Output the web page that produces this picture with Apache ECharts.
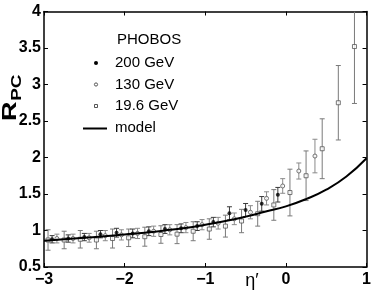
<!DOCTYPE html>
<html><head><meta charset="utf-8">
<script src="https://cdn.jsdelivr.net/npm/echarts@6/dist/echarts.min.js"></script>
<style>html,body{margin:0;padding:0;background:#fff}#c{width:374px;height:293px}</style>
</head><body><div id="c"></div><script>
// 200 GeV (filled dots)
const eta200 = [-2.9,-2.7,-2.5,-2.3,-2.1,-1.9,-1.7,-1.5,-1.3,-1.1,-0.9,-0.7,-0.5,-0.3,-0.1];
const r200   = [0.88,0.89,0.91,0.95,0.97,0.96,0.99,1.02,1.03,1.06,1.115,1.235,1.28,1.365,1.49];
const err200 = [0.05,0.05,0.05,0.05,0.06,0.06,0.06,0.06,0.06,0.06,0.065,0.09,0.09,0.1,0.1];
// 130 GeV (open circles)
const eta130 = [-2.84,-2.64,-2.44,-2.24,-2.04,-1.84,-1.64,-1.44,-1.24,-1.04,-0.84,-0.64,-0.44,-0.24,-0.04,0.16,0.36];
const r130   = [0.89,0.89,0.90,0.93,0.94,0.96,0.99,1.01,1.04,1.08,1.10,1.16,1.25,1.44,1.61,1.815,2.02];
const err130 = [0.06,0.06,0.06,0.07,0.07,0.07,0.07,0.07,0.07,0.07,0.08,0.08,0.09,0.09,0.10,0.11,0.23];
// 19.6 GeV (open squares)
const eta19 = [-2.95,-2.75,-2.55,-2.35,-2.15,-1.95,-1.75,-1.55,-1.35,-1.15,-0.95,-0.75,-0.55,-0.35,-0.15,0.05,0.25,0.45,0.65,0.85];
const r19   = [0.87,0.87,0.88,0.87,0.89,0.90,0.915,0.945,0.95,0.99,1.02,1.06,1.13,1.23,1.35,1.52,1.75,2.12,2.75,3.52];
const err19 = [0.14,0.12,0.12,0.12,0.13,0.12,0.13,0.12,0.13,0.13,0.14,0.15,0.16,0.17,0.21,0.32,0.34,0.41,0.51,0.78];
// model curve
const modelEta = [-3,-2.75,-2.5,-2.25,-2,-1.75,-1.5,-1.25,-1,-0.75,-0.5,-0.25,0,0.25,0.5,0.75,1];
const modelR   = [0.86,0.88,0.90,0.92,0.945,0.97,1.0,1.035,1.08,1.13,1.19,1.26,1.33,1.43,1.56,1.74,1.99];
// axes
const xTicks = [-3,-2,-1,0,1];
const yTicks = [0.5,1,1.5,2,2.5,3,3.5,4];
const legendTitle = 'PHOBOS';
const legendNames = ['200 GeV','130 GeV','19.6 GeV','model'];

const X_MIN = xTicks[0], X_MAX = xTicks[xTicks.length-1];
const Y_MIN = yTicks[0], Y_MAX = yTicks[yTicks.length-1];
const FONT = '"Liberation Sans", Arial, Helvetica, sans-serif';

function errSeries(xs, ys, es, color, z) {
  return {
    type: 'custom', z: z, silent: true, clip: true,
    data: xs.map((x, i) => [x, ys[i] - es[i], ys[i] + es[i]]),
    encode: { x: 0, y: [1, 2] },
    renderItem: function (params, api) {
      const x = api.value(0);
      const lo = api.value(1), hi = api.value(2);
      const pLo = api.coord([x, lo]);
      const pHi = api.coord([x, Math.min(hi, Y_MAX)]);
      const w = 2.5;
      const style = { stroke: color, lineWidth: 1 };
      const ch = [
        { type: 'line', shape: { x1: pLo[0], y1: pLo[1], x2: pHi[0], y2: pHi[1] }, style: style },
        { type: 'line', shape: { x1: pLo[0] - w, y1: pLo[1], x2: pLo[0] + w, y2: pLo[1] }, style: style }
      ];
      if (hi <= Y_MAX) ch.push({ type: 'line', shape: { x1: pHi[0] - w, y1: pHi[1], x2: pHi[0] + w, y2: pHi[1] }, style: style });
      return { type: 'group', children: ch };
    }
  };
}

const chart = echarts.init(document.getElementById('c'), null, { renderer: 'canvas' });
function axisCommon() {
  return {
    axisLine: { show: true, onZero: false, lineStyle: { color: '#000', width: 1.5 } },
    axisTick: { show: true, inside: true, length: 4, lineStyle: { color: '#000', width: 1 } },
    splitLine: { show: false }
  };
}
chart.setOption({
  animation: false,
  backgroundColor: '#fff',
  grid: { left: 44, right: 7, top: 11.5, bottom: 26, show: false },
  xAxis: [
    Object.assign({ type: 'value', position: 'bottom', min: X_MIN, max: X_MAX, interval: 1,
      axisLabel: { margin: 5, color: '#000', fontFamily: FONT, fontWeight: 'bold', fontSize: 16,
        formatter: v => String(v).replace('-', '\u2212') } }, axisCommon()),
    Object.assign({ type: 'value', position: 'top', min: X_MIN, max: X_MAX, interval: 1,
      axisLabel: { show: false } }, axisCommon())
  ],
  yAxis: [
    Object.assign({ type: 'value', position: 'left', min: Y_MIN, max: Y_MAX, interval: 0.5,
      axisLabel: { margin: 3, color: '#000', fontFamily: FONT, fontWeight: 'bold', fontSize: 16 } }, axisCommon()),
    Object.assign({ type: 'value', position: 'right', min: Y_MIN, max: Y_MAX, interval: 0.5,
      axisLabel: { show: false } }, axisCommon())
  ],
  series: [
    errSeries(eta19, r19, err19, '#7a7a7a', 2),
    errSeries(eta130, r130, err130, '#8a8a8a', 2),
    errSeries(eta200, r200, err200, '#3a3a3a', 3),
    { type: 'scatter', name: legendNames[2], z: 4, symbol: 'rect', symbolSize: 4,
      data: eta19.map((x, i) => [x, r19[i]]), clip: true,
      itemStyle: { color: '#fff', borderColor: '#555', borderWidth: 1 } },
    { type: 'scatter', name: legendNames[1], z: 4, symbol: 'circle', symbolSize: 4,
      data: eta130.map((x, i) => [x, r130[i]]),
      itemStyle: { color: '#fff', borderColor: '#555', borderWidth: 1 } },
    { type: 'scatter', name: legendNames[0], z: 5, symbol: 'circle', symbolSize: 4,
      data: eta200.map((x, i) => [x, r200[i]]),
      itemStyle: { color: '#000' } },
    { type: 'line', name: legendNames[3], z: 6, smooth: true, showSymbol: false, symbol: 'none',
      data: modelEta.map((x, i) => [x, modelR[i]]),
      lineStyle: { color: '#000', width: 2 } }
  ],
  graphic: [
    { type: 'text', left: 117, top: 32, style: { text: legendTitle, font: '15px ' + FONT, fill: '#000' } },
    { type: 'circle', shape: { cx: 96, cy: 63, r: 2 }, style: { fill: '#000' } },
    { type: 'text', x: 115, y: 63, style: { text: legendNames[0], font: '15px ' + FONT, fill: '#000', verticalAlign: 'middle' } },
    { type: 'circle', shape: { cx: 96, cy: 84.5, r: 1.6 }, style: { fill: '#fff', stroke: '#555', lineWidth: 1 } },
    { type: 'text', x: 115, y: 84.5, style: { text: legendNames[1], font: '15px ' + FONT, fill: '#000', verticalAlign: 'middle' } },
    { type: 'rect', shape: { x: 94.5, y: 104.5, width: 3, height: 3 }, style: { fill: '#fff', stroke: '#555', lineWidth: 1 } },
    { type: 'text', x: 115, y: 106, style: { text: legendNames[2], font: '15px ' + FONT, fill: '#000', verticalAlign: 'middle' } },
    { type: 'line', shape: { x1: 83, y1: 128.5, x2: 107, y2: 128.5 }, style: { stroke: '#000', lineWidth: 2 } },
    { type: 'text', x: 115, y: 128, style: { text: legendNames[3], font: '15px ' + FONT, fill: '#000', verticalAlign: 'middle' } },
    { type: 'text', x: 252, y: 281, style: { text: '\u03B7\u2032', font: '18px ' + FONT, fill: '#000', align: 'center', verticalAlign: 'middle' } },
    { type: 'group', x: 20, y: 121, rotation: Math.PI / 2, scaleX: 1.35, children: [
      { type: 'text', x: 0, y: 0, style: { text: 'R', font: 'bold 20px ' + FONT, fill: '#000', verticalAlign: 'bottom' } },
      { type: 'text', x: 15, y: 4, style: { text: 'PC', font: 'bold 14px ' + FONT, fill: '#000', verticalAlign: 'bottom' } }
    ] }
  ]
});
</script></body></html>
